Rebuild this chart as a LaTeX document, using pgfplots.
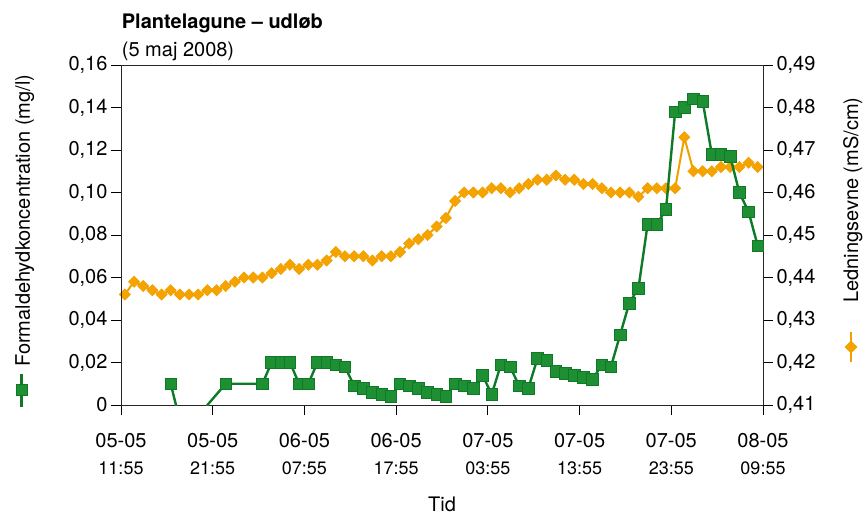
\documentclass[border=0pt]{standalone}
\usepackage{fontspec}
\setmainfont{TeX Gyre Heros}
\usepackage{pgfplots}
\pgfplotsset{compat=1.18}
\usepackage{pgfplotstable}
\definecolor{gfill}{HTML}{1F8F33}
\definecolor{gline}{HTML}{0E7A27}
\definecolor{ofill}{HTML}{F5A300}
\definecolor{oline}{HTML}{F2A000}

\pgfplotstableread{
t v
0.42 0.436
1.42 0.439
2.42 0.438
3.42 0.437
4.42 0.436
5.42 0.437
6.42 0.436
7.42 0.436
8.42 0.436
9.42 0.437
10.42 0.437
11.42 0.438
12.42 0.439
13.42 0.440
14.42 0.440
15.42 0.440
16.42 0.441
17.42 0.442
18.42 0.443
19.42 0.442
20.42 0.443
21.42 0.443
22.42 0.444
23.42 0.446
24.42 0.445
25.42 0.445
26.42 0.445
27.42 0.444
28.42 0.445
29.42 0.445
30.42 0.446
31.42 0.448
32.42 0.449
33.42 0.450
34.42 0.452
35.42 0.454
36.42 0.458
37.42 0.460
38.42 0.460
39.42 0.460
40.42 0.461
41.42 0.461
42.42 0.460
43.42 0.461
44.42 0.462
45.42 0.463
46.42 0.463
47.42 0.464
48.42 0.463
49.42 0.463
50.42 0.462
51.42 0.462
52.42 0.461
53.42 0.460
54.42 0.460
55.42 0.460
56.42 0.459
57.42 0.461
58.42 0.461
59.42 0.461
60.42 0.461
61.42 0.473
62.42 0.465
63.42 0.465
64.42 0.465
65.42 0.466
66.42 0.466
67.42 0.466
68.42 0.467
69.42 0.466
}\orangedata

\pgfplotstableread{
t v
5.42 0.010
6.42 -0.0075
7.42 -0.006
8.42 -0.006
9.42 0.000
11.42 0.010
15.42 0.010
16.42 0.020
17.42 0.020
18.42 0.020
19.42 0.010
20.42 0.010
21.42 0.020
22.42 0.020
23.42 0.019
24.42 0.018
25.42 0.009
26.42 0.008
27.42 0.006
28.42 0.005
29.42 0.004
30.42 0.010
31.42 0.009
32.42 0.008
33.42 0.006
34.42 0.005
35.42 0.004
36.42 0.010
37.42 0.009
38.42 0.008
39.42 0.014
40.42 0.005
41.42 0.019
42.42 0.018
43.42 0.009
44.42 0.008
45.42 0.022
46.42 0.021
47.42 0.016
48.42 0.015
49.42 0.014
50.42 0.013
51.42 0.012
52.42 0.019
53.42 0.018
54.42 0.033
55.42 0.048
56.42 0.055
57.42 0.085
58.42 0.085
59.42 0.092
60.42 0.138
61.42 0.140
62.42 0.144
63.42 0.143
64.42 0.118
65.42 0.118
66.42 0.117
67.42 0.100
68.42 0.091
69.42 0.075
}\greendata

\begin{document}
\begin{tikzpicture}
\pgfplotsset{
  base/.style={
    at={(0bp,0bp)}, anchor=south west, scale only axis,
    width=642bp, height=340bp,
    xmin=0, xmax=70,
    tick align=outside, major tick length=10bp,
    tick style={black, line width=0.9bp},
    axis line style={line width=0.9bp, black!85},
    ticklabel style={font=\fontsize{20bp}{24bp}\selectfont},
    /pgf/number format/assume math mode=true,
  }
}
\begin{axis}[base,
  ymin=0.41, ymax=0.49,
  ytick={0.41,0.42,0.43,0.44,0.45,0.46,0.47,0.48,0.49},
  yticklabels={{0,41},{0,42},{0,43},{0,44},{0,45},{0,46},{0,47},{0,48},{0,49}},
  ytick pos=right, yticklabel pos=right,
  xtick=\empty]
\addplot[oline, line width=2bp, mark=square*, mark size=4bp,
  mark options={rotate=45, fill=ofill, draw=oline, line width=0.5bp}]
  table[x=t, y=v]{\orangedata};
\end{axis}
\begin{axis}[base,
  ymin=0, ymax=0.16,
  ytick={0,0.02,0.04,0.06,0.08,0.10,0.12,0.14,0.16},
  yticklabels={{0},{0,02},{0,04},{0,06},{0,08},{0,10},{0,12},{0,14},{0,16}},
  ytick pos=left,
  xtick={0,10,20,30,40,50,60,70},
  xtick pos=bottom,
  xticklabel style={align=center, yshift=-15bp, font=\fontsize{20bp}{27bp}\selectfont},
  xticklabels={
    {05-05\\{\fontsize{18bp}{27bp}\selectfont 11:55}},
    {05-05\\{\fontsize{18bp}{27bp}\selectfont 21:55}},
    {06-05\\{\fontsize{18bp}{27bp}\selectfont 07:55}},
    {06-05\\{\fontsize{18bp}{27bp}\selectfont 17:55}},
    {07-05\\{\fontsize{18bp}{27bp}\selectfont 03:55}},
    {07-05\\{\fontsize{18bp}{27bp}\selectfont 13:55}},
    {07-05\\{\fontsize{18bp}{27bp}\selectfont 23:55}},
    {08-05\\{\fontsize{18bp}{27bp}\selectfont 09:55}}},
  ]
\addplot[gline, line width=2.4bp, no marks] table[x=t, y=v]{\greendata};
\addplot[only marks, restrict y to domain=0.001:1, mark=square*, mark size=5.8bp,
  mark options={fill=gfill, draw=gline, line width=0.6bp}]
  table[x=t, y=v]{\greendata};
\end{axis}
% titles
\node[anchor=base west, inner sep=0pt, font=\bfseries\fontsize{20bp}{24bp}\selectfont] at (0.7bp,376bp) {Plantelagune – udløb};
\node[anchor=base west, inner sep=0pt, font=\fontsize{20bp}{24bp}\selectfont] at (0.7bp,348bp) {(5 maj 2008)};
% axis labels
\node[rotate=90, anchor=base west, inner sep=0pt, font=\fontsize{20bp}{24bp}\selectfont] at (-91bp,38bp) {Formaldehydkoncentration (mg/l)};
\draw[gline, line width=2.4bp] (-99.3bp,-2bp) -- (-99.3bp,31bp);
\draw[gline, fill=gfill, line width=0.6bp] (-105bp,9.5bp) rectangle (-93.6bp,20.5bp);
\node[rotate=90, anchor=base west, inner sep=0pt, font=\fontsize{20bp}{24bp}\selectfont] at (737bp,102bp) {Ledningsevne (mS/cm)};
\draw[oline, line width=2bp] (730bp,43bp) -- (730bp,73bp);
\draw[oline, fill=ofill, line width=0.5bp] (730bp,52bp) -- (736bp,58bp) -- (730bp,64bp) -- (724bp,58bp) -- cycle;
\node[anchor=base, inner sep=0pt, font=\fontsize{20bp}{24bp}\selectfont] at (321bp,-106bp) {Tid};
\path[use as bounding box] (-121bp,-110bp) rectangle (743bp,405bp);
\end{tikzpicture}
\end{document}
